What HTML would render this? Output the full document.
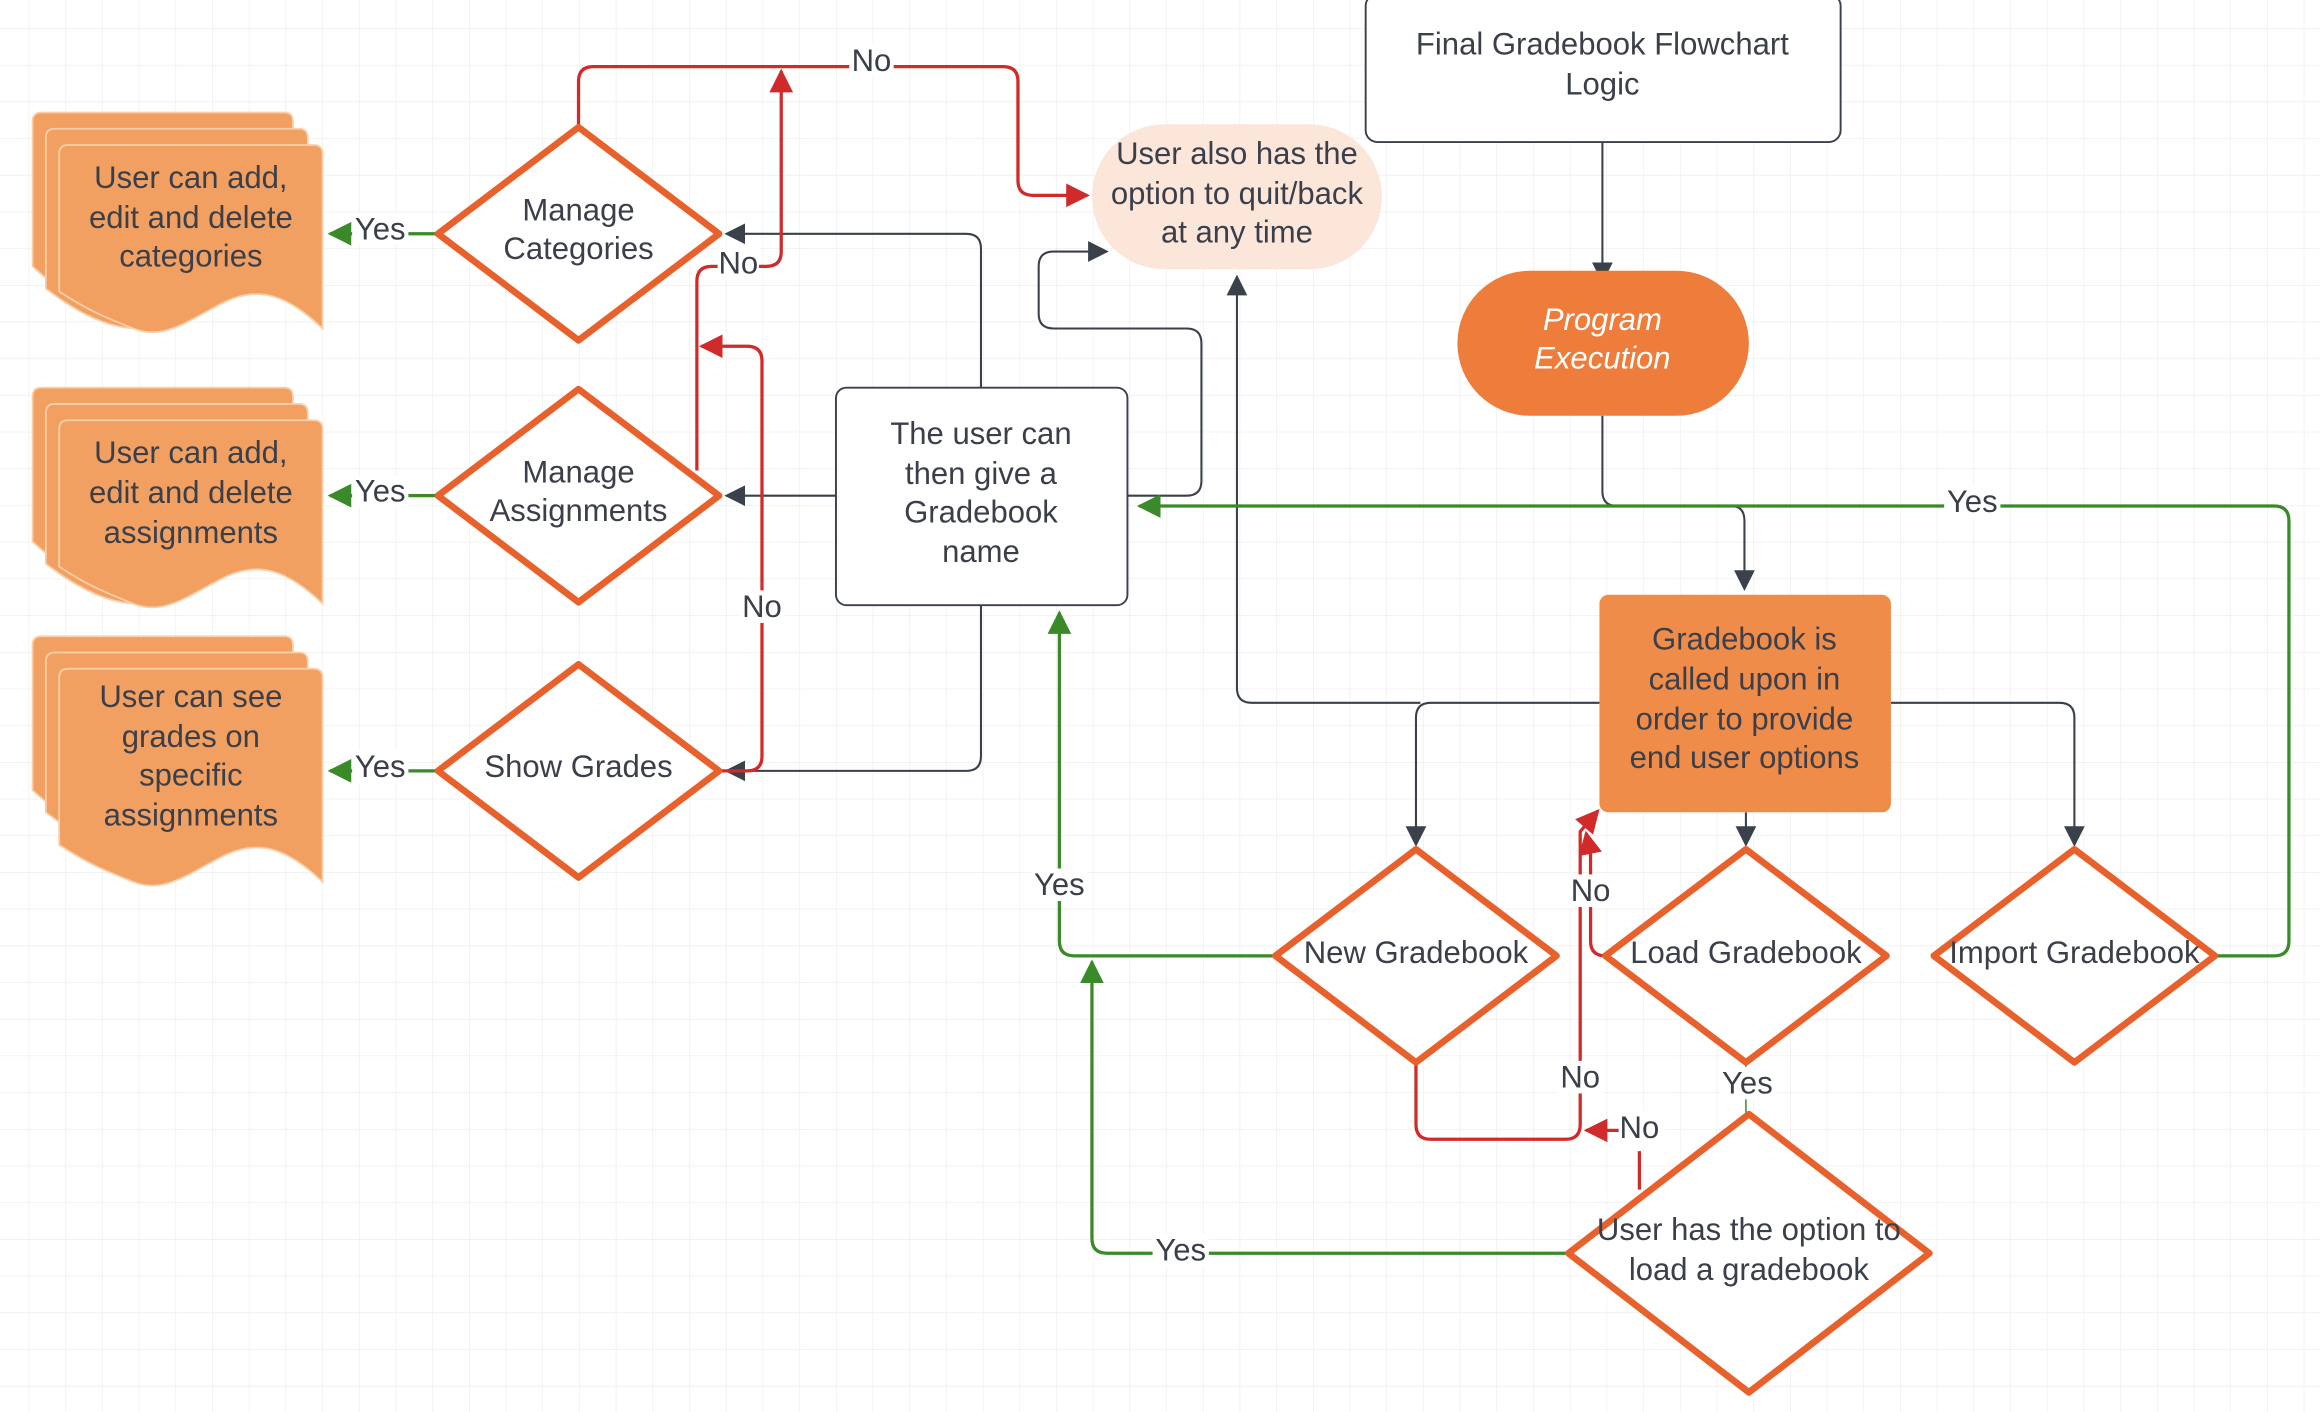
<!DOCTYPE html>
<html><head><meta charset="utf-8"><style>
html,body{margin:0;padding:0;background:#fff;}
svg{display:block;}
text{font-family:"Liberation Sans",sans-serif;fill:#3b3f4a;font-size:21px;text-anchor:middle;}
</style></head><body>
<svg width="2320" height="1412" viewBox="0 0 1568 954.3" xmlns="http://www.w3.org/2000/svg">
<defs>
<pattern id="g" x="19.4" y="19" width="24.8" height="24.8" patternUnits="userSpaceOnUse">
<path d="M0 0H24.8M0 0V24.8" stroke="#ebebeb" stroke-width="0.8" fill="none"/>
</pattern>
<marker id="ad" viewBox="0 0 10 10" refX="9" refY="5" markerWidth="14" markerHeight="14" markerUnits="userSpaceOnUse" orient="auto"><path d="M0 0L10 5L0 10Z" fill="#3a414a"/></marker>
<marker id="ag" viewBox="0 0 10 10" refX="9" refY="5" markerWidth="16" markerHeight="16" markerUnits="userSpaceOnUse" orient="auto"><path d="M0 0L10 5L0 10Z" fill="#3a8a2a"/></marker>
<marker id="ar" viewBox="0 0 10 10" refX="9" refY="5" markerWidth="16" markerHeight="16" markerUnits="userSpaceOnUse" orient="auto"><path d="M0 0L10 5L0 10Z" fill="#d12a2a"/></marker>
</defs>
<rect width="1568" height="954.3" fill="url(#g)"/>

<!-- dark connectors -->
<g fill="none" stroke="#3a414a" stroke-width="1.4">
<path d="M1083 96V190" marker-end="url(#ad)"/>
<path d="M1083 281V332Q1083 342 1093 342H1170Q1179 342 1179 352V398" marker-end="url(#ad)"/>
<path d="M1081 475H967Q957 475 957 485V571" marker-end="url(#ad)"/>
<path d="M960 475H846Q836 475 836 465V187" marker-end="url(#ad)"/>
<path d="M1180 549V571" marker-end="url(#ad)"/>
<path d="M1278 475H1392Q1402 475 1402 485V571" marker-end="url(#ad)"/>
<path d="M663 262V168Q663 158 653 158H491" marker-end="url(#ad)"/>
<path d="M565 335H491" marker-end="url(#ad)"/>
<path d="M663 409V511Q663 521 653 521H491" marker-end="url(#ad)"/>
<path d="M762 335H802Q812 335 812 325V232Q812 222 802 222H712Q702 222 702 212V180Q702 170 712 170H748" marker-end="url(#ad)"/>
</g>

<!-- green connectors -->
<g fill="none" stroke="#3a8a2a" stroke-width="2.2">
<path d="M1497 646H1537Q1547 646 1547 636V352Q1547 342 1537 342H770" marker-end="url(#ag)"/>
<path d="M862 646H726Q716 646 716 636V414" marker-end="url(#ag)"/>
<path d="M1060 847H748Q738 847 738 837V650" marker-end="url(#ag)"/>
<path d="M296 158H223" marker-end="url(#ag)"/>
<path d="M296 335H223" marker-end="url(#ag)"/>
<path d="M296 521H223" marker-end="url(#ag)"/>
<path d="M1180 718V753" stroke-width="1"/>
</g>

<!-- red connectors -->
<g fill="none" stroke="#d12a2a" stroke-width="2.2">
<path d="M391 86V55Q391 45 401 45H678Q688 45 688 55V122Q688 132 698 132H735" marker-end="url(#ar)"/>
<path d="M471 318V190Q471 180 481 180H518Q528 180 528 170V48" marker-end="url(#ar)"/>
<path d="M486 521H505Q515 521 515 511V244Q515 234 505 234H474" marker-end="url(#ar)"/>
<path d="M957 718V760Q957 770 967 770H1058Q1068 770 1068 760V562L1080 548" marker-end="url(#ar)"/>
<path d="M1085 646Q1075 646 1075 636V578L1072 563" marker-end="url(#ar)"/>
<path d="M1108 804V778"/>
<path d="M1100 764H1072" marker-end="url(#ar)"/>
</g>

<!-- labels on lines -->
<g>
<rect x="1314" y="328" width="38" height="22" fill="#fff"/><text x="1333" y="346">Yes</text>
<rect x="697" y="587" width="38" height="22" fill="#fff"/><text x="716" y="605">Yes</text>
<rect x="779" y="834" width="38" height="22" fill="#fff"/><text x="798" y="852">Yes</text>
<rect x="1162" y="721" width="38" height="22" fill="#fff"/><text x="1181" y="739">Yes</text>
<rect x="238" y="144" width="38" height="22" fill="#fff"/><text x="257" y="162">Yes</text>
<rect x="238" y="321" width="38" height="22" fill="#fff"/><text x="257" y="339">Yes</text>
<rect x="238" y="507" width="38" height="22" fill="#fff"/><text x="257" y="525">Yes</text>
<rect x="574" y="30" width="30" height="22" fill="#fff"/><text x="589" y="48">No</text>
<rect x="485" y="167" width="28" height="22" fill="#fff"/><text x="499" y="185">No</text>
<rect x="500" y="399" width="30" height="22" fill="#fff"/><text x="515" y="417">No</text>
<rect x="1060" y="591" width="30" height="22" fill="#fff"/><text x="1075" y="609">No</text>
<rect x="1053" y="717" width="30" height="22" fill="#fff"/><text x="1068" y="735">No</text>
<rect x="1094" y="751" width="30" height="22" fill="#fff"/><text x="1108" y="769">No</text>
</g>

<!-- boxes -->
<rect x="923" y="-4" width="321" height="100" rx="8" fill="#fff" stroke="#3a414a" stroke-width="1.3"/>
<text x="1083" y="37">Final Gradebook Flowchart</text>
<text x="1083" y="64">Logic</text>

<rect x="985" y="183" width="197" height="98" rx="49" fill="#ee7c3b"/>
<text x="1083" y="223" style="fill:#fff;font-style:italic">Program</text>
<text x="1083" y="249" style="fill:#fff;font-style:italic">Execution</text>

<rect x="1081" y="402" width="197" height="147" rx="6" fill="#f08c4a"/>
<text x="1179" y="439">Gradebook is</text>
<text x="1179" y="466">called upon in</text>
<text x="1179" y="493">order to provide</text>
<text x="1179" y="519">end user options</text>

<rect x="565" y="262" width="197" height="147" rx="7" fill="#fff" stroke="#3a414a" stroke-width="1.3"/>
<text x="663" y="300">The user can</text>
<text x="663" y="327">then give a</text>
<text x="663" y="353">Gradebook</text>
<text x="663" y="380">name</text>

<rect x="738" y="84" width="196" height="98" rx="49" fill="#fce6da"/>
<text x="836" y="111">User also has the</text>
<text x="836" y="138">option to quit/back</text>
<text x="836" y="164">at any time</text>

<!-- diamonds -->
<g fill="#fff" stroke="#e8612c" stroke-width="4.5" stroke-linejoin="round">
<path d="M391 86L486 158L391 230L296 158Z"/>
<path d="M391 263L486 335L391 407L296 335Z"/>
<path d="M391 449L486 521L391 593L296 521Z"/>
<path d="M957 574L1052 646L957 718L862 646Z"/>
<path d="M1180 574L1275 646L1180 718L1085 646Z"/>
<path d="M1402 574L1497 646L1402 718L1307 646Z"/>
<path d="M1182 753L1304 847L1182 941L1060 847Z"/>
</g>
<text x="391" y="149">Manage</text><text x="391" y="175">Categories</text>
<text x="391" y="326">Manage</text><text x="391" y="352">Assignments</text>
<text x="391" y="525">Show Grades</text>
<text x="957" y="651">New Gradebook</text>
<text x="1180" y="651">Load Gradebook</text>
<text x="1402" y="651">Import Gradebook</text>
<text x="1182" y="838">User has the option to</text>
<text x="1182" y="865">load a gradebook</text>

<!-- documents -->
<g fill="#f1a062" stroke="#f8cfa8" stroke-width="1.2">
<path id="d1" d="M22 82Q22 76 28 76H192Q198 76 198 82V200C170 175 150 180 120 200S60 215 22 180Z"/>
<path d="M31 93Q31 87 37 87H202Q208 87 208 93V210C180 188 160 190 130 210S70 225 31 195Z"/>
<path d="M40 104Q40 98 46 98H212Q218 98 218 104V222C195 200 175 192 150 205S110 230 90 222S60 210 40 197Z"/>
<path d="M22 268Q22 262 28 262H192Q198 262 198 268V386C170 361 150 366 120 386S60 401 22 366Z"/>
<path d="M31 279Q31 273 37 273H202Q208 273 208 279V396C180 374 160 376 130 396S70 411 31 381Z"/>
<path d="M40 290Q40 284 46 284H212Q218 284 218 290V408C195 386 175 378 150 391S110 416 90 408S60 396 40 383Z"/>
<path d="M22 436Q22 430 28 430H192Q198 430 198 436V554C170 529 150 534 120 554S60 569 22 534Z"/>
<path d="M31 447Q31 441 37 441H202Q208 441 208 447V564C180 542 160 544 130 564S70 579 31 549Z"/>
<path d="M40 458Q40 452 46 452H212Q218 452 218 458V596C195 574 175 566 150 579S110 604 90 596S60 584 40 571Z"/>
</g>
<text x="129" y="127">User can add,</text><text x="129" y="154">edit and delete</text><text x="129" y="180">categories</text>
<text x="129" y="313">User can add,</text><text x="129" y="340">edit and delete</text><text x="129" y="367">assignments</text>
<text x="129" y="478">User can see</text><text x="129" y="505">grades on</text><text x="129" y="531">specific</text><text x="129" y="558">assignments</text>
</svg>
</body></html>
